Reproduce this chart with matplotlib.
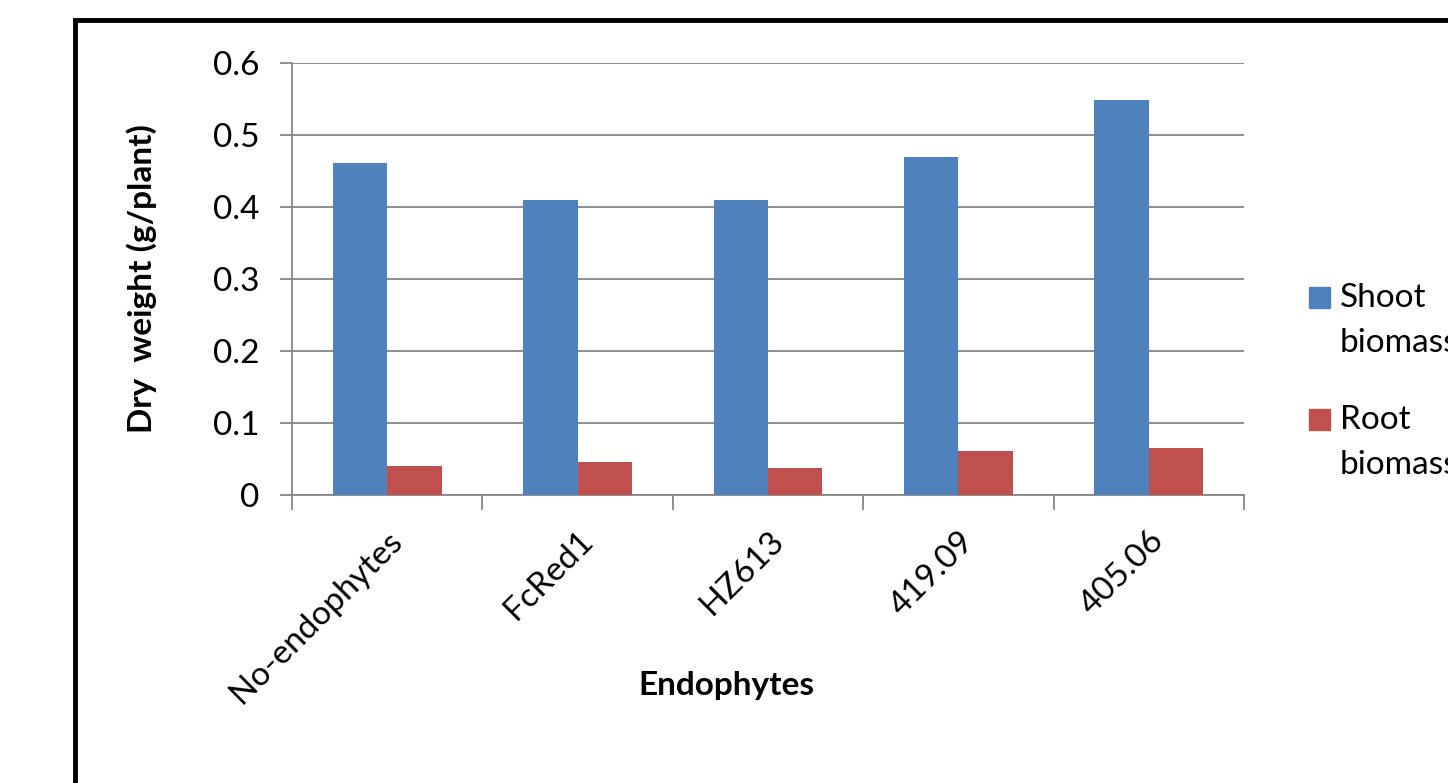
import numpy as np
import matplotlib
matplotlib.use('Agg')
import matplotlib.pyplot as plt
from matplotlib.patches import Rectangle

# Data
categories = ['No-endophytes', 'FcRed1', 'HZ613', '419.09', '405.06']
shoot_biomass = [0.461, 0.41, 0.41, 0.469, 0.549]
root_biomass = [0.040, 0.046, 0.038, 0.061, 0.065]
series_names = ['Shoot\nbiomass', 'Root\nbiomass']
y_ticks = [0, 0.1, 0.2, 0.3, 0.4, 0.5, 0.6]
y_tick_labels = ['0', '0.1', '0.2', '0.3', '0.4', '0.5', '0.6']

blue = '#4F81BD'
red = '#C0504D'
grid_gray = '#868686'
fs = 24

plt.rcParams['font.family'] = ['Lato', 'DejaVu Sans']

fig = plt.figure(figsize=(14.48, 7.83), dpi=100)
ax = fig.add_axes([292 / 1448, 1 - 495 / 783, 952 / 1448, 432 / 783])

x = np.arange(len(categories))
w = 0.286
ax.bar(x - w / 2, shoot_biomass, width=w, color=blue, zorder=3)
ax.bar(x + w / 2, root_biomass, width=w, color=red, zorder=3)

ax.set_xlim(-0.5, len(categories) - 0.5)
ax.set_ylim(0, 0.6)
ax.set_yticks(y_ticks)
ax.set_yticklabels(y_tick_labels, fontsize=fs)
ax.yaxis.grid(True, color=grid_gray, linewidth=1.3, zorder=0)
ax.tick_params(axis='y', length=8.6, color=grid_gray, width=1.3, pad=15)

# category labels at centres, tick marks at boundaries
ax.set_xticks(x)
ax.set_xticklabels(categories, rotation=45, ha='right', rotation_mode='anchor', fontsize=fs)
ax.set_xticks(np.arange(len(categories) + 1) - 0.5, minor=True)
ax.tick_params(axis='x', which='major', length=0, pad=22)
ax.tick_params(axis='x', which='minor', length=11, color=grid_gray, width=1.3)

for side in ['top', 'right']:
    ax.spines[side].set_visible(False)
for side in ['left', 'bottom']:
    ax.spines[side].set_color(grid_gray)
    ax.spines[side].set_linewidth(1.3)

ax.set_ylabel('Dry  weight (g/plant)', fontsize=fs, fontweight='bold', labelpad=40)
ax.set_xlabel('Endophytes', fontsize=fs, fontweight='bold', va='center')
ax.xaxis.set_label_coords(0.456, -0.442)

# legend drawn by hand so the swatch sits beside the first text line
leg_colors = [blue, red]
leg_tops = [287, 409]
for name, col, top in zip(series_names, leg_colors, leg_tops):
    fig.patches.append(Rectangle((1309 / 1448, 1 - (top + 21) / 783), 21 / 1448, 21 / 783,
                                 transform=fig.transFigure, color=col))
    for i, line in enumerate(name.split('\n')):
        fig.text(1340 / 1448, 1 - (top + 20 + 45 * i) / 783, line, fontsize=fs,
                 va='baseline', ha='left')

# outer black frame that runs off the right and bottom edges
fig.patches.append(Rectangle((75 / 1448, -0.1), 1.2, 1 - 20 / 783 + 0.1,
                             transform=fig.transFigure, fill=False,
                             edgecolor='black', linewidth=3.5))

fig.savefig('out.png', dpi=100)
